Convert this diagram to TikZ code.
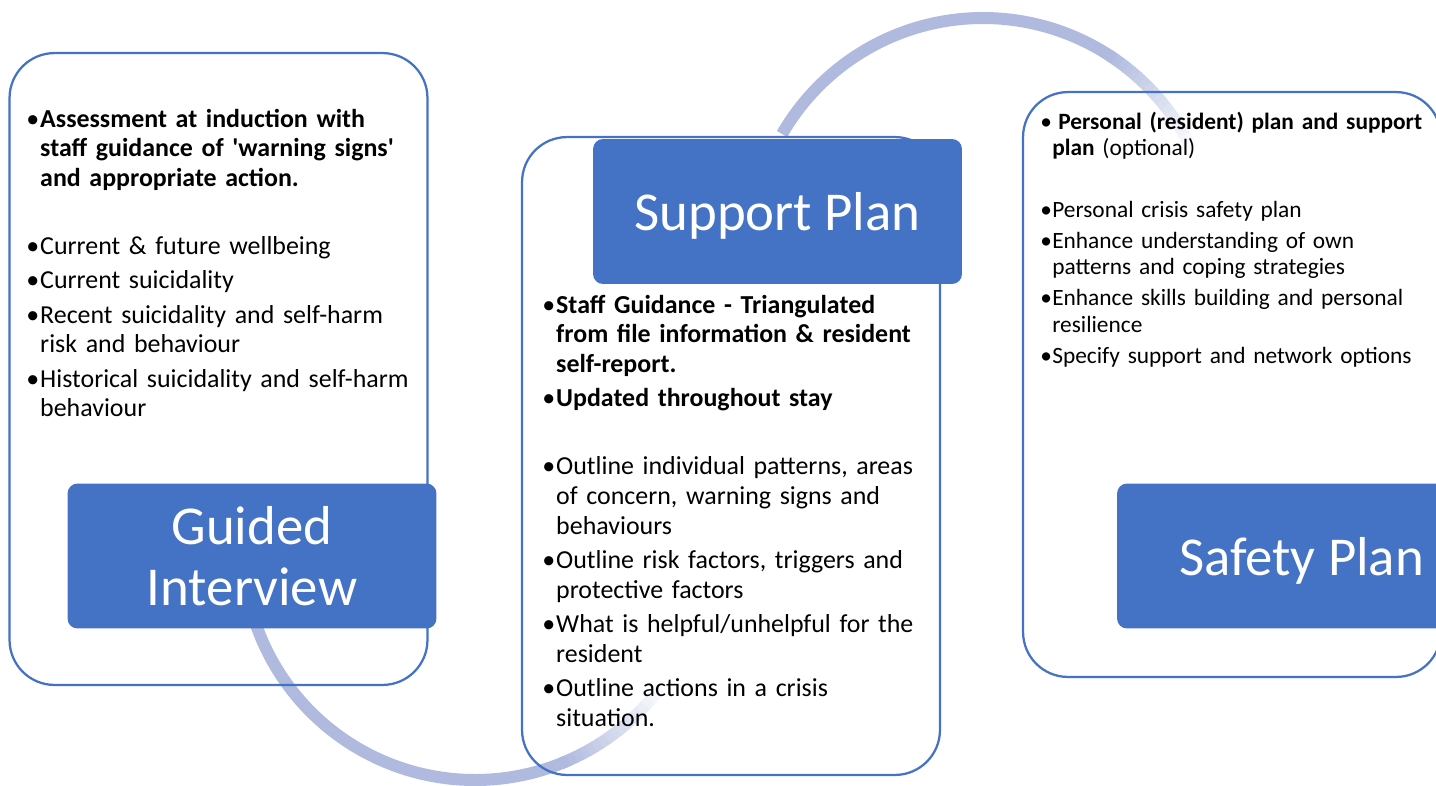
\documentclass[tikz,border=0pt]{standalone}
\usepackage{fontspec}
\setmainfont{Carlito}
\definecolor{accblue}{HTML}{4472C4}
\definecolor{arcblue}{HTML}{AFBADE}
\newlength{\bulw}
\newcommand{\bulgap}{2.5pt}
\newcommand{\fbul}[1]{\hangindent=\bulw\hangafter=1\noindent\makebox[\bulw][l]{•}#1}
\newcommand{\bul}[2][\bulgap]{\par\vspace{#1}\fbul{#2}}
\begin{document}
\begin{tikzpicture}[x=0.02cm,y=-0.02cm,
    card/.style={draw=accblue,line width=0.045cm,rounded corners=0.9cm,minimum width=8.36cm},
    head/.style={fill=accblue,text=white,rounded corners=0.2cm,minimum width=7.38cm,minimum height=2.9cm,align=center,font=\fontsize{31.2}{34.6}\selectfont},
    txt/.style={anchor=base west,inner sep=0pt,text width=9cm,align=left},
    bigtxt/.style={font=\fontsize{14.75}{17}\selectfont,execute at begin node={\setlength{\baselineskip}{17pt}\setlength{\bulw}{7.9pt}\renewcommand{\bulgap}{2.4pt}}},
    smalltxt/.style={font=\fontsize{13.3}{15}\selectfont,execute at begin node={\setlength{\baselineskip}{15pt}\setlength{\bulw}{6.8pt}\renewcommand{\bulgap}{2.6pt}}},
    arcline/.style={line width=0.24cm}]
\useasboundingbox (0,0) rectangle (1436,785);
% arcs between the steps, fading out at the far end
\coordinate (c1) at (475,548);
\coordinate (c2) at (983,250);
\draw[arcline,arcblue] (c1) ++(165:232) arc[start angle=165,end angle=67,radius=232];
\foreach \k [evaluate=\k as \a using 68-1.8*\k, evaluate=\k as \p using 100-5.8*\k] in {0,...,16}
    \draw[arcline,arcblue!\p!white] (c1) ++(\a:232) arc[start angle=\a,end angle=\a-2.1,radius=232];
\draw[arcline,arcblue] (c2) ++(210:232) arc[start angle=210,end angle=304,radius=232];
\foreach \k [evaluate=\k as \a using 303+1.7*\k, evaluate=\k as \p using 100-5.5*\k] in {0,...,17}
    \draw[arcline,arcblue!\p!white] (c2) ++(\a:232) arc[start angle=\a,end angle=\a+2,radius=232];

\node[card,minimum height=12.64cm] (gibox) at (218.5,369) {};
\node[card,minimum height=12.76cm] (spbox) at (731,456) {};
\node[card,minimum height=11.7cm] (sfbox) at (1232,384.5) {};

\node[head] (gi) at (252,556) {Guided\\Interview};
\node[head,text depth=0pt] (sp) at (777.5,211.5) {Support Plan};
\node[head,text depth=0pt] (sf) at (1301.5,556) {Safety Plan};

\node[txt,bigtxt] (gitxt) at (26,127) {%
\fbul{\textbf{Assessment at induction with\newline staff guidance of \textquotesingle warning signs\textquotesingle\newline and appropriate action.}}
\bul[21.8pt]{Current \& future wellbeing}
\bul{Current suicidality}
\bul{Recent suicidality and self-harm\newline risk and behaviour}
\bul{Historical suicidality and self-harm\newline behaviour}\par};

\node[txt,bigtxt] (sptxt) at (542,313) {%
\fbul{\textbf{Staff Guidance - Triangulated\newline from file information \& resident\newline self-report.}}
\bul{\textbf{Updated throughout stay}}
\bul[21.8pt]{Outline individual patterns, areas\newline of concern, warning signs and\newline behaviours}
\bul{Outline risk factors, triggers and\newline protective factors}
\bul{What is helpful/unhelpful for the\newline resident}
\bul{Outline actions in a crisis\newline situation.}\par};

\node[txt,smalltxt] (sftxt) at (1040,129) {%
\fbul{\hspace{3.4pt}\textbf{Personal (resident) plan and support\newline plan} (optional)}
\bul[20.4pt]{Personal crisis safety plan}
\bul{Enhance understanding of own\newline patterns and coping strategies}
\bul{Enhance skills building and personal\newline resilience}
\bul{Specify support and network options}\par};
\end{tikzpicture}
\end{document}
